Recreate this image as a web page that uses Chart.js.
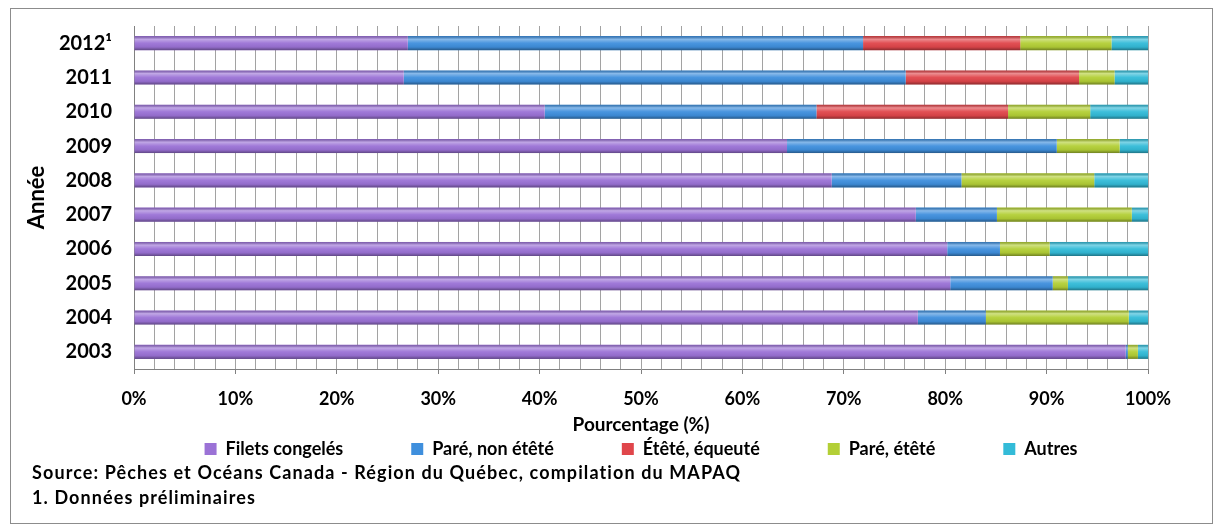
<!DOCTYPE html>
<html lang="fr">
<head>
<meta charset="utf-8">
<title>Répartition par type de produit</title>
<script src="https://cdn.jsdelivr.net/npm/chart.js@4"></script>
<style>
  body { margin: 0; background: #fff; }
  #cadre { position: absolute; left: 10px; top: 8px; width: 1201px; height: 514px; border: 1px solid #8c8c8c; }
  #zone { position: absolute; left: 0; top: 0; width: 1217px; height: 527px; }
  .note { position: absolute; left: 32px; font: bold 18px Lato, sans-serif; letter-spacing: 1.1px; color: #000; white-space: nowrap; }
</style>
</head>
<body>
<div id="cadre"></div>
<div id="zone"><canvas id="graphique"></canvas></div>
<div class="note" style="top:461px">Source: Pêches et Océans Canada - Région du Québec, compilation du MAPAQ</div>
<div class="note" style="top:486px">1. Données préliminaires</div>

<script>
/* ---- données (en %) ---- */
const annees = ["2012¹", "2011", "2010", "2009", "2008", "2007", "2006", "2005", "2004", "2003"];

const filetsCongeles = [27.0, 26.6, 40.5, 64.4, 68.8, 77.1, 80.2, 80.5, 77.3, 97.8];
const pareNonEtete   = [44.9, 49.5, 26.8, 26.6, 12.8,  8.0,  5.2, 10.1,  6.7,  0.2];
const eteteEqueute   = [15.5, 17.1, 18.9,  0,    0,    0,    0,    0,    0,    0  ];
const pareEtete      = [ 9.0,  3.5,  8.1,  6.2, 13.1, 13.3,  4.9,  1.5, 14.1,  1.0];
const autres         = [ 3.6,  3.3,  5.7,  2.8,  5.3,  1.6,  9.7,  7.9,  1.9,  1.0];

// graduations de l'axe horizontal
const pasGrille = 2;
const pasEtiquette = 10;

/* ---- effet "cylindre" sur les barres ---- */
const relief = {
  id: "relief",
  afterDatasetsDraw(chart) {
    const ctx = chart.ctx;
    chart.data.datasets.forEach((ds, i) => {
      chart.getDatasetMeta(i).data.forEach((bar) => {
        const { x, y, base, height } = bar.getProps(["x", "y", "base", "height"], true);
        const w = x - base;
        if (w <= 0.5) return;
        const top = y - height / 2;
        const g = ctx.createLinearGradient(0, top, 0, top + height);
        g.addColorStop(0, "rgba(0,0,0,0.18)");
        g.addColorStop(0.22, "rgba(255,255,255,0.38)");
        g.addColorStop(0.5, "rgba(255,255,255,0.05)");
        g.addColorStop(0.78, "rgba(0,0,0,0.06)");
        g.addColorStop(1, "rgba(0,0,0,0.38)");
        ctx.save();
        ctx.fillStyle = g;
        ctx.fillRect(base, top, w, height);
        ctx.restore();
      });
    });
  },
};

/* ---- légende rapprochée de l'axe (la zone de découpe suit) ---- */
const placeLegende = {
  id: "placeLegende",
  afterLayout(chart) {
    const lg = chart.legend;
    const pad = lg.options.labels.padding;
    lg.top = 440 - pad;
    lg.bottom = 462;
  },
};

const police = (size) => ({ family: "Lato", weight: "bold", size });

new Chart(document.getElementById("graphique"), {
  type: "bar",
  data: {
    labels: annees,
    datasets: [
      { label: "Filets congelés", data: filetsCongeles, backgroundColor: "#9b72d6" },
      { label: "Paré, non étêté", data: pareNonEtete, backgroundColor: "#3f8fdd" },
      { label: "Étêté, équeuté", data: eteteEqueute, backgroundColor: "#e0464b" },
      { label: "Paré, étêté", data: pareEtete, backgroundColor: "#b3cf36" },
      { label: "Autres", data: autres, backgroundColor: "#33bbd8" },
    ],
  },
  options: {
    indexAxis: "y",
    responsive: true,
    maintainAspectRatio: false,
    animation: false,
    borderWidth: 0,
    barPercentage: 0.41,
    categoryPercentage: 1,
    layout: { padding: { top: 26, right: 69, left: 0, bottom: 71 } },
    plugins: {
      tooltip: { enabled: false },
      legend: {
        position: "bottom",
        fullSize: false,
        maxHeight: 20,
        labels: {
          boxWidth: 12,
          boxHeight: 12,
          padding: 68,
          color: "#000",
          font: police(18),
        },
      },
    },
    scales: {
      x: {
        stacked: true,
        min: 0,
        max: 100,
        afterFit: (s) => { s.height = 67; },
        grid: {
          color: "#a2a2a2",
          tickLength: 5,
          tickColor: (c) => (c.tick && c.tick.value % pasEtiquette === 0 ? "#808080" : "rgba(0,0,0,0)"),
        },
        border: { color: "#808080" },
        ticks: {
          stepSize: pasGrille,
          autoSkip: false,
          maxRotation: 0,
          padding: 14,
          color: "#000",
          font: police(18),
          callback: (v) => (v % pasEtiquette === 0 ? v + "%" : ""),
        },
        title: {
          display: true,
          text: "Pourcentage (%)",
          color: "#000",
          font: police(19),
          padding: { top: 0, bottom: 0 },
        },
      },
      y: {
        stacked: true,
        afterFit: (s) => {
          s.width = 134;
          s.paddingTop = 0;
          s.paddingBottom = 0;
        },
        grid: { display: false, drawTicks: false },
        border: { display: true, color: "#808080" },
        ticks: { padding: 22, color: "#000", font: police(20) },
        title: {
          display: true,
          text: "Année",
          color: "#000",
          font: police(22),
          padding: { top: 24, bottom: 0 },
        },
      },
    },
  },
  plugins: [relief, placeLegende],
});
</script>
</body>
</html>
